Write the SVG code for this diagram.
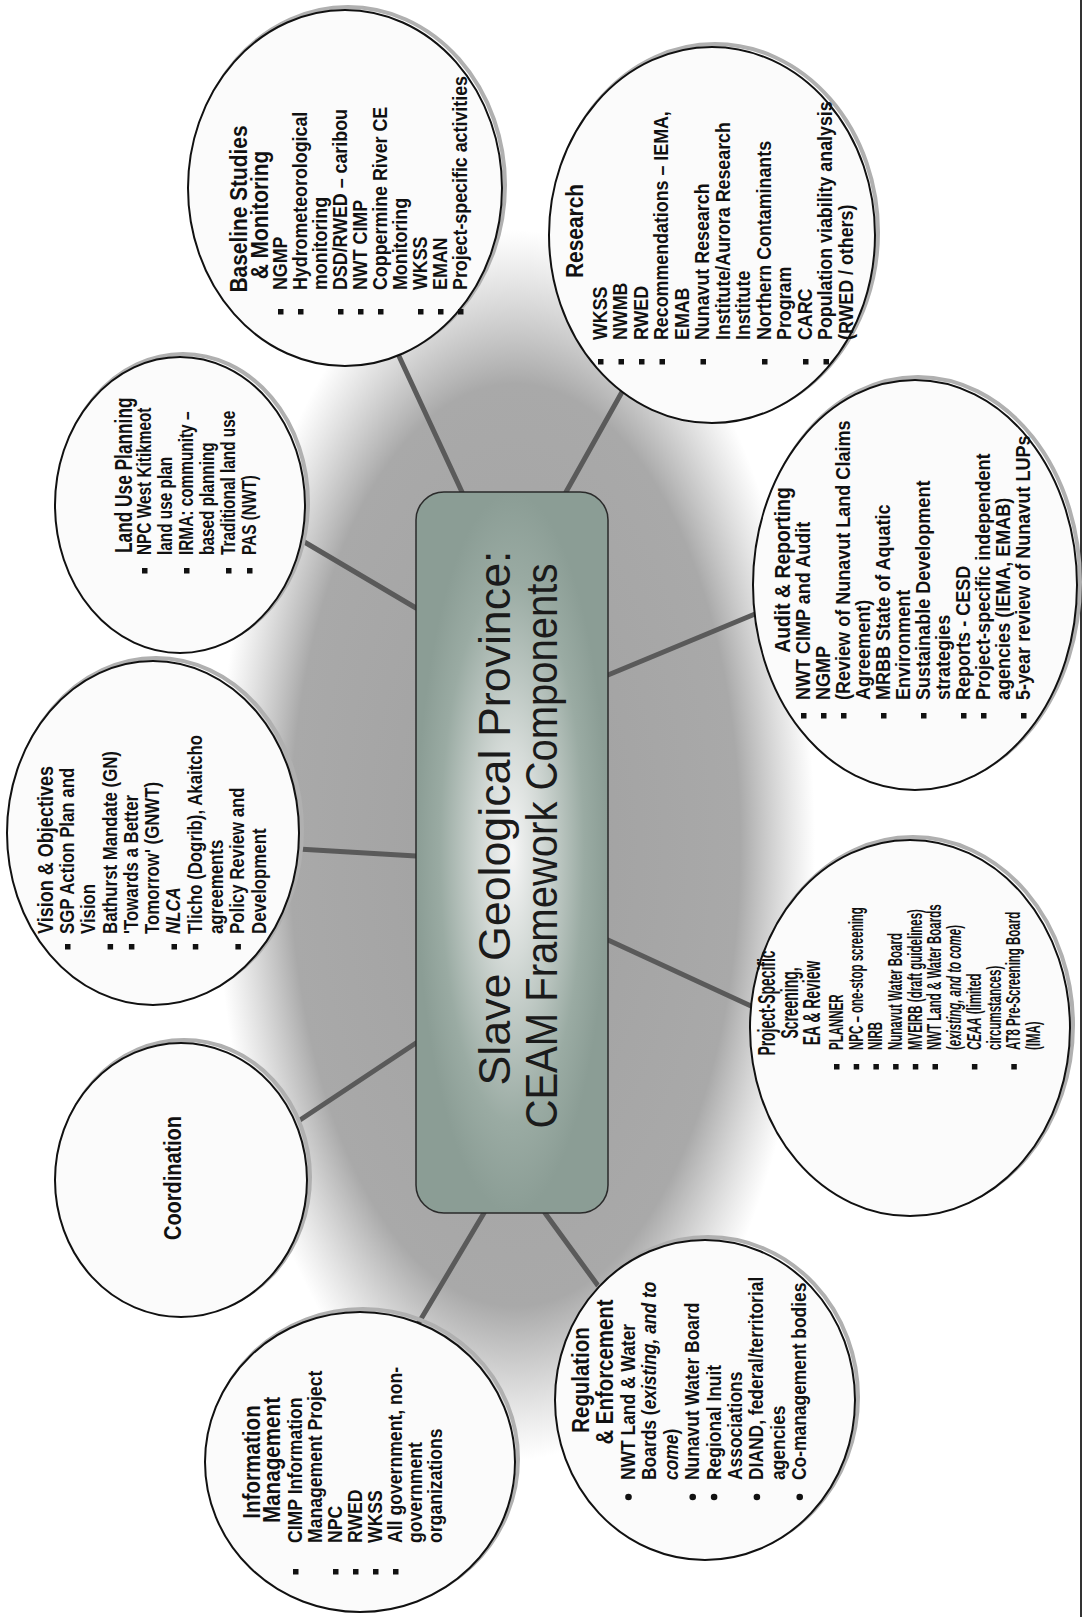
<svg xmlns="http://www.w3.org/2000/svg" width="1085" height="1617" viewBox="0 0 1085 1617">
<defs>
<radialGradient id="glow" cx="50%" cy="50%" r="50%">
<stop offset="0" stop-color="#a0a0a0"/>
<stop offset="0.75" stop-color="#a9a9a9"/>
<stop offset="1" stop-color="#b8b8b8" stop-opacity="0"/>
</radialGradient>
<radialGradient id="boxfill" cx="50%" cy="50%" r="50%">
<stop offset="0" stop-color="#f6f6f6"/>
<stop offset="0.3" stop-color="#d4dad7"/>
<stop offset="0.75" stop-color="#9aaba3"/>
<stop offset="1" stop-color="#8b9d95"/>
</radialGradient>
</defs>
<style>
.bub{fill:#fbfbfb;stroke:#111;stroke-width:2}
.shd{fill:none;stroke:#b0b0b0;stroke-width:4}
.t{font-family:"Liberation Sans",Arial,Helvetica,sans-serif;font-weight:bold;fill:#111}
.h{font-size:24px}
.i{font-size:20.5px}
.vh{font-size:22px}
.it{font-style:italic}
.bl{fill:#111}
.con line{stroke:#5a5a5a;stroke-width:5;stroke-linecap:round}
.ttl{font-family:"Liberation Sans",Arial,Helvetica,sans-serif;font-size:44px;fill:#1b1b1b}
</style>
<rect width="1085" height="1617" fill="#ffffff"/>
<ellipse cx="515" cy="845" rx="300" ry="615" fill="url(#glow)"/>
<line x1="1081" y1="0" x2="1081" y2="1617" stroke="#333" stroke-width="2"/>

<g id="connectors" class="con">
<line x1="301" y1="540" x2="416" y2="608"/>
<line x1="298" y1="849" x2="416" y2="856"/>
<line x1="300" y1="1120" x2="416" y2="1043"/>
<line x1="484" y1="1213" x2="418" y2="1324"/>
<line x1="545" y1="1213" x2="599" y2="1287"/>
<line x1="608" y1="940" x2="751" y2="1006"/>
<line x1="608" y1="675" x2="755" y2="614"/>
<line x1="566" y1="492" x2="622" y2="392"/>
<line x1="462" y1="492" x2="398" y2="354"/>
</g>

<g id="center">
<rect x="416" y="492" width="192" height="721" rx="28" fill="url(#boxfill)" stroke="#2a2a2a" stroke-width="1.5"/>
<text class="ttl" text-anchor="middle" textLength="535" lengthAdjust="spacingAndGlyphs" transform="translate(510,818) rotate(-90)">Slave Geological Province:</text>
<text class="ttl" text-anchor="middle" textLength="565" lengthAdjust="spacingAndGlyphs" transform="translate(557,846) rotate(-90)">CEAM Framework Components</text>
</g>

<g id="baseline">
<ellipse class="shd" cx="348" cy="185" rx="157" ry="178"/>
<ellipse class="bub" cx="345" cy="188" rx="157" ry="178"/>
<text class="t h" text-anchor="middle" transform="translate(247,209) rotate(-90) scale(0.87,1)">Baseline Studies</text>
<text class="t h" text-anchor="middle" transform="translate(268,215) rotate(-90) scale(0.87,1)">&amp; Monitoring</text>
<text class="t i" transform="translate(287,290) rotate(-90) scale(0.87,1)"><tspan x="0" y="0">NGMP</tspan><tspan x="0" y="20">Hydrometeorological</tspan><tspan x="0" y="40">monitoring</tspan><tspan x="0" y="60">DSD/RWED – caribou</tspan><tspan x="0" y="80">NWT CIMP</tspan><tspan x="0" y="100">Coppermine River CE</tspan><tspan x="0" y="120">Monitoring</tspan><tspan x="0" y="140">WKSS</tspan><tspan x="0" y="160">EMAN</tspan><tspan x="0" y="180">Project-specific activities</tspan></text>
<g class="bl"><rect x="278" y="309" width="5.5" height="5.5"/><rect x="298" y="309" width="5.5" height="5.5"/><rect x="338" y="309" width="5.5" height="5.5"/><rect x="358" y="309" width="5.5" height="5.5"/><rect x="378" y="309" width="5.5" height="5.5"/><rect x="418" y="309" width="5.5" height="5.5"/><rect x="438" y="309" width="5.5" height="5.5"/><rect x="458" y="309" width="5.5" height="5.5"/></g>
</g>

<g id="research">
<ellipse class="shd" cx="715" cy="232" rx="163" ry="188"/>
<ellipse class="bub" cx="712" cy="235" rx="163" ry="188"/>
<text class="t h" text-anchor="middle" transform="translate(583,231) rotate(-90) scale(0.87,1)">Research</text>
<text class="t i" transform="translate(607,340) rotate(-90) scale(0.87,1)"><tspan x="0" y="0">WKSS</tspan><tspan x="0" y="20.5">NWMB</tspan><tspan x="0" y="41">RWED</tspan><tspan x="0" y="61.5">Recommendations – IEMA,</tspan><tspan x="0" y="82">EMAB</tspan><tspan x="0" y="102.5">Nunavut Research</tspan><tspan x="0" y="123">Institute/Aurora Research</tspan><tspan x="0" y="143.5">Institute</tspan><tspan x="0" y="164">Northern Contaminants</tspan><tspan x="0" y="184.5">Program</tspan><tspan x="0" y="205">CARC</tspan><tspan x="0" y="225.5">Population viability analysis</tspan><tspan x="0" y="246">(RWED / others)</tspan></text>
<g class="bl"><rect x="598" y="359" width="5.5" height="5.5"/><rect x="618.5" y="359" width="5.5" height="5.5"/><rect x="639" y="359" width="5.5" height="5.5"/><rect x="659.5" y="359" width="5.5" height="5.5"/><rect x="700.5" y="359" width="5.5" height="5.5"/><rect x="762" y="359" width="5.5" height="5.5"/><rect x="803" y="359" width="5.5" height="5.5"/><rect x="823.5" y="359" width="5.5" height="5.5"/></g>
</g>

<g id="audit">
<ellipse class="shd" cx="918" cy="582" rx="162" ry="205"/>
<ellipse class="bub" cx="915" cy="585" rx="162" ry="205"/>
<text class="t" font-size="22" text-anchor="middle" transform="translate(790,570) rotate(-90) scale(0.88,1)">Audit &amp; Reporting</text>
<text class="t i" transform="translate(810,700) rotate(-90) scale(0.88,1)"><tspan x="0" y="0">NWT CIMP and Audit</tspan><tspan x="0" y="20">NGMP</tspan><tspan x="0" y="40">(Review of Nunavut Land Claims</tspan><tspan x="0" y="60">Agreement)</tspan><tspan x="0" y="80">MRBB State of Aquatic</tspan><tspan x="0" y="100">Environment</tspan><tspan x="0" y="120">Sustainable Development</tspan><tspan x="0" y="140">strategies</tspan><tspan x="0" y="160">Reports - CESD</tspan><tspan x="0" y="180">Project-specific independent</tspan><tspan x="0" y="200">agencies (IEMA, EMAB)</tspan><tspan x="0" y="220">5-year review of Nunavut LUPs</tspan></text>
<g class="bl"><rect x="801" y="713" width="5.5" height="5.5"/><rect x="821" y="713" width="5.5" height="5.5"/><rect x="841" y="713" width="5.5" height="5.5"/><rect x="881" y="713" width="5.5" height="5.5"/><rect x="921" y="713" width="5.5" height="5.5"/><rect x="961" y="713" width="5.5" height="5.5"/><rect x="981" y="713" width="5.5" height="5.5"/><rect x="1021" y="713" width="5.5" height="5.5"/></g>
</g>

<g id="project">
<ellipse class="shd" cx="913" cy="1025" rx="160" ry="188"/>
<ellipse class="bub" cx="910" cy="1028" rx="160" ry="188"/>
<text class="t h" text-anchor="middle" transform="translate(775,1003) rotate(-90) scale(0.58,1)">Project-Specific</text>
<text class="t h" text-anchor="middle" transform="translate(798,1003) rotate(-90) scale(0.58,1)">Screening,</text>
<text class="t h" text-anchor="middle" transform="translate(820,1003) rotate(-90) scale(0.58,1)">EA &amp; Review</text>
<text class="t i" transform="translate(843,1050) rotate(-90) scale(0.56,1)"><tspan x="0" y="0">PLANNER</tspan><tspan x="0" y="19.7">NPC – one-stop screening</tspan><tspan x="0" y="39.4">NIRB</tspan><tspan x="0" y="59.1">Nunavut Water Board</tspan><tspan x="0" y="78.8">MVEIRB (draft guidelines)</tspan><tspan x="0" y="98.5">NWT Land &amp; Water Boards</tspan><tspan x="0" y="118.2">(<tspan class="it">existing, and to come</tspan>)</tspan><tspan x="0" y="137.9"><tspan class="it">CEAA</tspan> (limited</tspan><tspan x="0" y="157.6">circumstances)</tspan><tspan x="0" y="177.3">AT8 Pre-Screening Board</tspan><tspan x="0" y="197">(IMA)</tspan></text>
<g class="bl"><rect x="834" y="1064" width="5.5" height="5.5"/><rect x="853.7" y="1064" width="5.5" height="5.5"/><rect x="873.4" y="1064" width="5.5" height="5.5"/><rect x="893.1" y="1064" width="5.5" height="5.5"/><rect x="912.8" y="1064" width="5.5" height="5.5"/><rect x="932.5" y="1064" width="5.5" height="5.5"/><rect x="971.9" y="1064" width="5.5" height="5.5"/><rect x="1011.3" y="1064" width="5.5" height="5.5"/></g>
</g>

<g id="regulation">
<ellipse class="shd" cx="708" cy="1397" rx="150" ry="160"/>
<ellipse class="bub" cx="705" cy="1400" rx="150" ry="160"/>
<text class="t h" text-anchor="middle" transform="translate(589,1380) rotate(-90) scale(0.85,1)">Regulation</text>
<text class="t h" text-anchor="middle" transform="translate(613,1372) rotate(-90) scale(0.85,1)">&amp; Enforcement</text>
<text class="t i" transform="translate(635,1480) rotate(-90) scale(0.85,1)"><tspan x="0" y="0">NWT Land &amp; Water</tspan><tspan x="0" y="21.4">Boards (<tspan class="it">existing, and to</tspan></tspan><tspan x="0" y="42.8"><tspan class="it">come</tspan>)</tspan><tspan x="0" y="64.2">Nunavut Water Board</tspan><tspan x="0" y="85.6">Regional Inuit</tspan><tspan x="0" y="107">Associations</tspan><tspan x="0" y="128.4">DIAND, federal/territorial</tspan><tspan x="0" y="149.8">agencies</tspan><tspan x="0" y="171.2">Co-management bodies</tspan></text>
<g class="bl"><circle cx="628.5" cy="1497" r="3.3"/><circle cx="692.7" cy="1497" r="3.3"/><circle cx="714.1" cy="1497" r="3.3"/><circle cx="756.9" cy="1497" r="3.3"/><circle cx="799.7" cy="1497" r="3.3"/></g>
</g>

<g id="information">
<ellipse class="shd" cx="363" cy="1459" rx="155" ry="150"/>
<ellipse class="bub" cx="360" cy="1462" rx="155" ry="150"/>
<text class="t h" text-anchor="middle" transform="translate(260,1462) rotate(-90) scale(0.86,1)">Information</text>
<text class="t h" text-anchor="middle" transform="translate(280,1460) rotate(-90) scale(0.86,1)">Management</text>
<text class="t i" transform="translate(302,1543) rotate(-90) scale(0.86,1)"><tspan x="0" y="0">CIMP Information</tspan><tspan x="0" y="20">Management Project</tspan><tspan x="0" y="40">NPC</tspan><tspan x="0" y="60">RWED</tspan><tspan x="0" y="80">WKSS</tspan><tspan x="0" y="100">All government, non-</tspan><tspan x="0" y="120">government</tspan><tspan x="0" y="140">organizations</tspan></text>
<g class="bl"><rect x="293" y="1569" width="5.5" height="5.5"/><rect x="333" y="1569" width="5.5" height="5.5"/><rect x="353" y="1569" width="5.5" height="5.5"/><rect x="373" y="1569" width="5.5" height="5.5"/><rect x="393" y="1569" width="5.5" height="5.5"/></g>
</g>

<g id="coordination">
<ellipse class="shd" cx="184" cy="1177" rx="126" ry="137"/>
<ellipse class="bub" cx="181" cy="1180" rx="126" ry="137"/>
<text class="t h" text-anchor="middle" transform="translate(181,1178) rotate(-90) scale(0.83,1)">Coordination</text>
</g>

<g id="vision">
<ellipse class="shd" cx="156" cy="830" rx="146" ry="172"/>
<ellipse class="bub" cx="153" cy="833" rx="146" ry="172"/>
<text class="t vh" transform="translate(53,934) rotate(-90) scale(0.82,1)">Vision &amp; Objectives</text>
<text class="t i" transform="translate(74,934) rotate(-90) scale(0.82,1)"><tspan x="0" y="0">SGP Action Plan and</tspan><tspan x="0" y="21.3">Vision</tspan><tspan x="0" y="42.6">Bathurst Mandate (GN)</tspan><tspan x="0" y="63.9">'Towards a Better</tspan><tspan x="0" y="85.2">Tomorrow' (GNWT)</tspan><tspan x="0" y="106.5" class="it">NLCA</tspan><tspan x="0" y="127.8">Tlicho (Dogrib), Akaitcho</tspan><tspan x="0" y="149.1">agreements</tspan><tspan x="0" y="170.4">Policy Review and</tspan><tspan x="0" y="191.7">Development</tspan></text>
<g class="bl"><rect x="65" y="944" width="5.5" height="5.5"/><rect x="107.6" y="944" width="5.5" height="5.5"/><rect x="128.9" y="944" width="5.5" height="5.5"/><rect x="171.5" y="944" width="5.5" height="5.5"/><rect x="192.8" y="944" width="5.5" height="5.5"/><rect x="235.4" y="944" width="5.5" height="5.5"/></g>
</g>

<g id="landuse">
<ellipse class="shd" cx="183" cy="502" rx="125" ry="148"/>
<ellipse class="bub" cx="180" cy="505" rx="125" ry="148"/>
<text class="t h" transform="translate(132,553) rotate(-90) scale(0.72,1)">Land Use Planning</text>
<text class="t i" transform="translate(151,555) rotate(-90) scale(0.75,1)"><tspan x="0" y="0">NPC West Kitikmeot</tspan><tspan x="0" y="21">land use plan</tspan><tspan x="0" y="42">IRMA: community –</tspan><tspan x="0" y="63">based planning</tspan><tspan x="0" y="84">Traditional land use</tspan><tspan x="0" y="105">PAS (NWT)</tspan></text>
<g class="bl"><rect x="142" y="568" width="5.5" height="5.5"/><rect x="184" y="568" width="5.5" height="5.5"/><rect x="226" y="568" width="5.5" height="5.5"/><rect x="247" y="568" width="5.5" height="5.5"/></g>
</g>
</svg>
